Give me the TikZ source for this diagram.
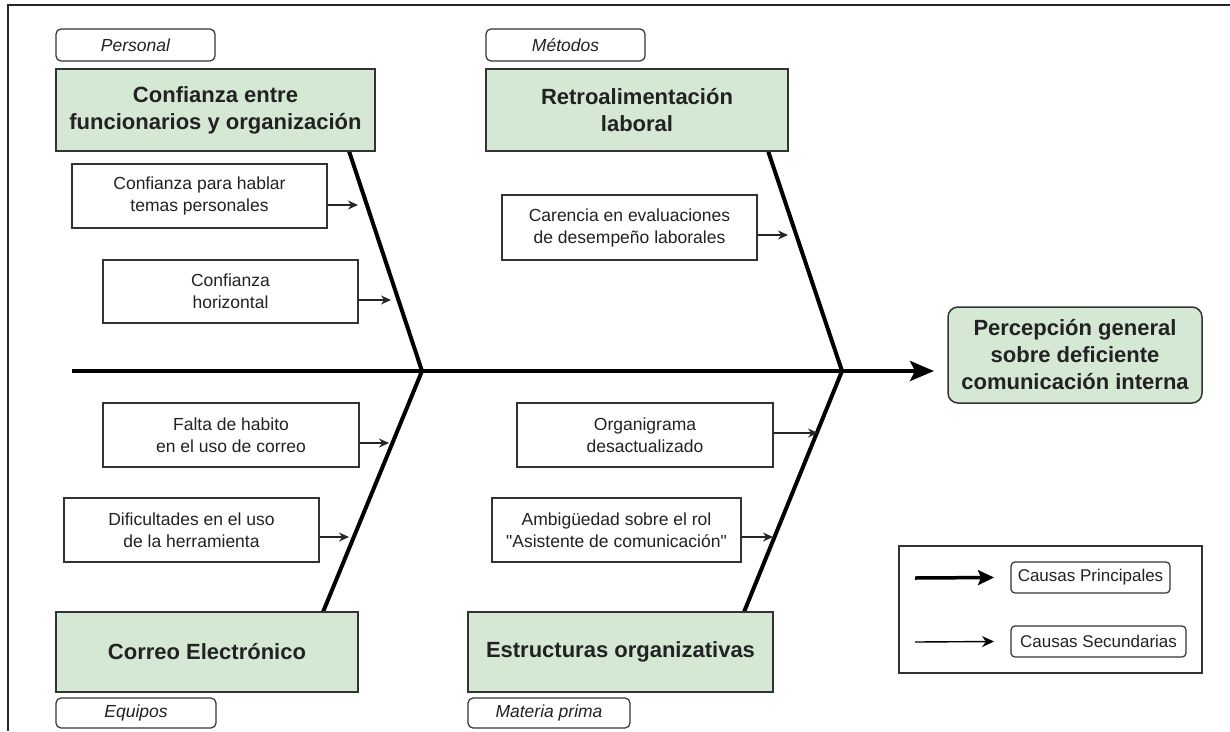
\documentclass[tikz,border=0pt]{standalone}
\usepackage{fontspec}
\setmainfont{Liberation Sans}[Ligatures=TeXOff]
\usetikzlibrary{arrows.meta}
\definecolor{fillg}{HTML}{D5E8D4}
\definecolor{txt}{HTML}{222222}
\definecolor{edge}{HTML}{333333}
\begin{document}
\begin{tikzpicture}[x=1pt,y=-1pt,
  mainbox/.style={draw=edge, line width=1.5pt, fill=fillg, text=txt, align=center, inner sep=0pt,
    font=\fontsize{22}{27}\selectfont\bfseries},
  subbox/.style={draw=edge, line width=1.3pt, fill=white, text=txt, align=center, inner sep=0pt,
    font=\fontsize{17.5}{22}\selectfont},
  catlabel/.style={draw=edge, line width=1.2pt, rounded corners=5pt, fill=white, text=txt, inner sep=0pt,
    font=\fontsize{17.5}{20}\selectfont\itshape},
  leglabel/.style={draw=edge, line width=1.2pt, rounded corners=4pt, fill=white, text=txt, inner sep=0pt,
    font=\fontsize{17}{20}\selectfont},
  bone/.style={line width=4pt, black},
  subarrow/.style={line width=1.4pt, black!85, -{Stealth[length=10pt,width=9pt]}},
]
\useasboundingbox (0,0) rectangle (1230,731);
% frame
\draw[line width=2pt, black!85] (8,731) -- (8,5) -- (1230,5);

% joints and bone ends
\coordinate (j1) at (422,371);
\coordinate (j2) at (842,371);
\coordinate (t1) at (343,133);
\coordinate (t2) at (762,133);
\coordinate (b1) at (323,612);
\coordinate (b2) at (744,612);
\coordinate (spL) at (72,371);
\coordinate (spR) at (934,371);

% bones (behind boxes)
\draw[bone] (t1) -- (j1) -- (b1);
\draw[bone] (t2) -- (j2) -- (b2);
\draw[bone, -{Stealth[length=24pt,width=20pt,inset=5pt]}] (spL) -- (spR);

% category labels
\node[catlabel, minimum width=159pt, minimum height=32pt] (catP) at (135.5,45) {Personal};
\node[catlabel, minimum width=159pt, minimum height=32pt] (catM) at (565.5,45) {Métodos};
\node[catlabel, minimum width=160pt, minimum height=30pt] (catE) at (136,713) {Equipos};
\node[catlabel, minimum width=162pt, minimum height=30pt] (catR) at (549,713) {Materia prima};

% main cause boxes
\node[mainbox, minimum width=319pt, minimum height=82pt] (m1) at (215.5,110) {Confianza entre\\funcionarios y organización};
\node[mainbox, minimum width=302pt, minimum height=82pt] (m2) at (637,110) {Retroalimentación\\laboral};
\node[mainbox, minimum width=302pt, minimum height=80pt] (m3) at (207,652) {Correo Electrónico};
\node[mainbox, minimum width=305pt, minimum height=80pt] (m4) at (620.5,652) {Estructuras organizativas};

% effect
\node[mainbox, rounded corners=10pt, minimum width=254pt, minimum height=96pt] (eff) at (1075,355)
  {Percepción general\\sobre deficiente\\comunicación interna};

% secondary causes
\node[subbox, minimum width=255pt, minimum height=64pt] (s1) at (199.5,196) {Confianza para hablar\\temas personales};
\node[subbox, minimum width=255pt, minimum height=63pt] (s2) at (230.5,291.5) {Confianza\\horizontal};
\node[subbox, minimum width=255pt, minimum height=65pt] (s3) at (629.5,227.5) {Carencia en evaluaciones\\de desempeño laborales};
\node[subbox, minimum width=256pt, minimum height=64pt] (s4) at (231,435) {Falta de habito\\en el uso de correo};
\node[subbox, minimum width=255pt, minimum height=64pt] (s5) at (191.5,530) {Dificultades en el uso\\de la herramienta};
\node[subbox, minimum width=256pt, minimum height=64pt] (s6) at (645,435) {Organigrama\\desactualizado};
\node[subbox, minimum width=249pt, minimum height=64pt] (s7) at (616.5,530) {Ambigüedad sobre el rol\\"Asistente de comunicación"};

% secondary arrow tips
\coordinate (a1) at (358,205);
\coordinate (a2) at (391,300);
\coordinate (a3) at (788,235);
\coordinate (a4) at (389,443);
\coordinate (a5) at (349,537);
\coordinate (a6) at (818,433);
\coordinate (a7) at (773,537);
\draw[subarrow] (s1.east |- a1) -- (a1);
\draw[subarrow] (s2.east |- a2) -- (a2);
\draw[subarrow] (s3.east |- a3) -- (a3);
\draw[subarrow] (s4.east |- a4) -- (a4);
\draw[subarrow] (s5.east |- a5) -- (a5);
\draw[subarrow] (s6.east |- a6) -- (a6);
\draw[subarrow] (s7.east |- a7) -- (a7);

% legend
\node[draw=edge, line width=1.5pt, minimum width=303pt, minimum height=127pt, inner sep=0pt] (leg) at (1050.5,609.5) {};
\node[leglabel, minimum width=159pt, minimum height=31pt] (lp) at (1090.5,577.5) {Causas Principales};
\node[leglabel, minimum width=175pt, minimum height=31pt] (ls) at (1098.5,641.5) {Causas Secundarias};
\coordinate (lpa) at (915,578);
\coordinate (lsa) at (915,642);
\draw[line width=3.5pt, black, -{Stealth[length=16pt,width=15pt,inset=3pt]}] (lpa) -- (lp.west -| 994,0);
\draw[line width=1.4pt, black, -{Stealth[length=12pt,width=11pt]}] (lsa) -- (ls.west -| 994,0);
\end{tikzpicture}
\end{document}
